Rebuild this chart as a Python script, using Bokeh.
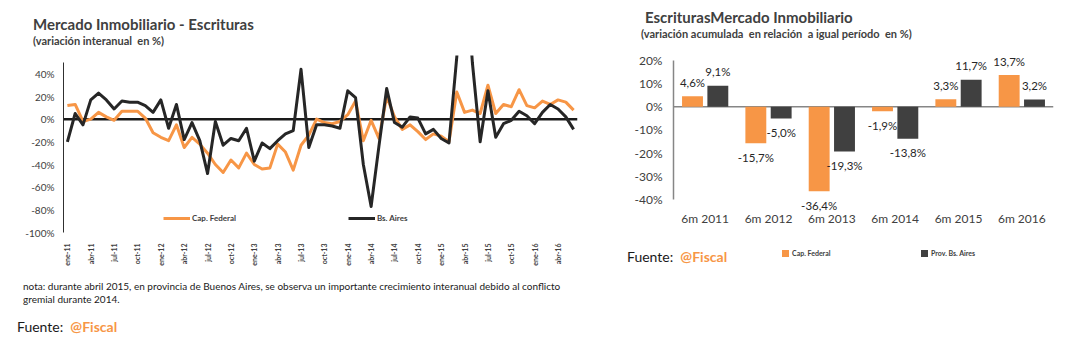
import numpy as np
from bokeh.plotting import figure
from bokeh.models import (ColumnDataSource, Span, Legend, LegendItem, Div,
                          FixedTicker, Range1d, FactorRange)
from bokeh.layouts import row
from bokeh.transform import dodge
from bokeh.embed import file_html
from bokeh.resources import INLINE
from bokeh.core.properties import value

FONT = "Lato"
ORANGE = "#F79646"
DARK = "#404040"
LINE_DARK = "#262626"
TXT = "#404040"

# ---------------- data: left chart (monthly, ene-11 .. jun-16, % interannual) -------------
cap_federal = [12, 13, -2, 0, 6, 2, -1, 7, 7, 7,
               1, -12, -16, -19, -5, -25, -16, -22, -30, -40,
               -47, -36, -43, -30, -40, -44, -43, -22, -29, -45,
               -23, -14, 0, -3, -4, -2, 4, 16, -19, -1,
               -17, 20, 2, -9, -5, -11, -18, -13, -15, -20,
               24, 6, 8, 5, 30, 5, 13, 11, 26, 12,
               10, 16, 13, 17, 15, 8]
bs_aires = [-20, 5, -5, 17, 23, 17, 9, 16, 15, 15,
            12, 6, 17, -8, 13, -18, -3, -19, -48, -2,
            -23, -17, -19, -8, -37, -21, -26, -19, -13, -10,
            44, -25, -5, -5, -6, -8, 25, 19, -40, -77,
            -24, 27, -3, -7, 2, 1, -13, -9, -17, -21,
            55, 150, 50, -20, 25, -16, -4, -1, 7, 3,
            -4, 6, 13, 9, 2, -9]
quarter_labels = ["ene-11", "abr-11", "jul-11", "oct-11", "ene-12", "abr-12", "jul-12",
                  "oct-12", "ene-13", "abr-13", "jul-13", "oct-13", "ene-14", "abr-14",
                  "jul-14", "oct-14", "ene-15", "abr-15", "jul-15", "oct-15", "ene-16",
                  "abr-16"]
left_yticks = [-100, -80, -60, -40, -20, 0, 20, 40]

# ---------------- data: right chart (6-month accumulated variation, %) --------------------
periods = ["6m 2011", "6m 2012", "6m 2013", "6m 2014", "6m 2015", "6m 2016"]
cap_fed_6m = [4.6, -15.7, -36.4, -1.9, 3.3, 13.7]
prov_ba_6m = [9.1, -5.0, -19.3, -13.8, 11.7, 3.2]
right_yticks = [-40, -30, -20, -10, 0, 10, 20]


def fmt(v):
    return f"{v:.1f}".replace(".", ",") + "%"


def html_text(html, left, center_y, size, color=TXT, weight="normal"):
    """free text placed on the page (px from the page's top-left)"""
    top = center_y - 0.6 * size
    return Div(text=html, margin=0, styles={
        "position": "absolute", "left": f"{left}px", "top": f"{top:.1f}px",
        "font-family": FONT, "font-size": f"{size}px", "line-height": "1.2",
        "color": color, "font-weight": weight, "white-space": "nowrap",
        "z-index": "5"})


TOP = 55
BOTTOM = 113
FRAME_H = 345 - TOP - BOTTOM   # 177 px, shared by both panels (row aligns frames)

# ================= LEFT FIGURE =================
L_LEFT, L_W = 63, 514
L_PX = 1.1333   # px per percentage point
p1 = figure(width=600, height=345, title=None,
            x_range=Range1d(-0.5, len(cap_federal) - 0.5),
            y_range=Range1d(-100, -100 + FRAME_H / L_PX),
            output_backend="svg", toolbar_location=None,
            min_border_left=L_LEFT, min_border_right=600 - L_LEFT - L_W,
            min_border_top=TOP, min_border_bottom=BOTTOM)
p1.outline_line_color = None
p1.grid.visible = False

p1.xaxis.ticker = FixedTicker(ticks=list(range(0, 3 * len(quarter_labels), 3)))
p1.xaxis.major_label_overrides = {3 * i: lab for i, lab in enumerate(quarter_labels)}
p1.xaxis.major_label_orientation = np.pi / 2
p1.xaxis.axis_line_color = None
p1.xaxis.major_tick_line_color = None
p1.xaxis.minor_tick_line_color = None
p1.xaxis.major_tick_out = 0
p1.xaxis.minor_tick_out = 0
p1.xaxis.major_label_standoff = 11
p1.xaxis.major_label_text_font = FONT
p1.xaxis.major_label_text_font_size = "7px"
p1.xaxis.major_label_text_font_style = "bold"
p1.xaxis.major_label_text_color = TXT

p1.yaxis.ticker = FixedTicker(ticks=left_yticks)
p1.yaxis.bounds = (-100, 50)
p1.yaxis.major_label_overrides = {v: f"{v}%" for v in left_yticks}
p1.yaxis.axis_line_color = "#303030"
p1.yaxis.axis_line_width = 1
p1.yaxis.major_tick_line_color = None
p1.yaxis.minor_tick_line_color = None
p1.yaxis.major_tick_out = 0
p1.yaxis.minor_tick_out = 0
p1.yaxis.major_label_standoff = 9
p1.yaxis.major_label_text_font = FONT
p1.yaxis.major_label_text_font_size = "10px"
p1.yaxis.major_label_text_color = TXT

p1.add_layout(Span(location=0, dimension="width", line_color="#1a1a1a",
                   line_width=2.5, level="underlay"))

months = np.arange(len(cap_federal))
src1 = ColumnDataSource(dict(m=months, cf=cap_federal, ba=bs_aires))
r_cf = p1.line("m", "cf", source=src1, line_color=ORANGE, line_width=3, line_join="round")
r_ba = p1.line("m", "ba", source=src1, line_color=LINE_DARK, line_width=3, line_join="round")

lg1 = Legend(items=[LegendItem(label="Cap. Federal", renderers=[r_cf]),
                    LegendItem(label="Bs. Aires", renderers=[r_ba])],
             orientation="horizontal", location=(163 - L_LEFT, 9),
             glyph_width=27, glyph_height=10, label_standoff=2, spacing=112,
             padding=0, margin=0, border_line_color=None, background_fill_alpha=0,
             label_text_font=FONT, label_text_font_size="8px",
             label_text_font_style="bold", label_text_color=TXT,
             label_height=10)
p1.add_layout(lg1)

# ================= RIGHT FIGURE =================
R_LEFT, R_W = 73, 380
R_PX = 2.3166
p2 = figure(width=492, height=345, title=None,
            x_range=FactorRange(*periods),
            y_range=Range1d(20 + 5 / R_PX - FRAME_H / R_PX, 20 + 5 / R_PX),
            output_backend="svg", toolbar_location=None,
            min_border_left=R_LEFT, min_border_right=492 - R_LEFT - R_W,
            min_border_top=TOP, min_border_bottom=BOTTOM)
p2.outline_line_color = None
p2.grid.visible = False

p2.xaxis.fixed_location = -42.7
p2.xaxis.axis_line_color = None
p2.xaxis.major_tick_line_color = None
p2.xaxis.minor_tick_line_color = None
p2.xaxis.major_tick_out = 0
p2.xaxis.minor_tick_out = 0
p2.xaxis.major_label_standoff = 5
p2.xaxis.major_label_text_font = FONT
p2.xaxis.major_label_text_font_size = "12px"
p2.xaxis.major_label_text_color = TXT

p2.yaxis.ticker = FixedTicker(ticks=right_yticks)
p2.yaxis.bounds = (-40, 20)
p2.yaxis.major_label_overrides = {v: f"{v}%" for v in right_yticks}
p2.yaxis.axis_line_color = "#868686"
p2.yaxis.axis_line_width = 1.5
p2.yaxis.major_tick_line_color = None
p2.yaxis.minor_tick_line_color = None
p2.yaxis.major_tick_out = 0
p2.yaxis.minor_tick_out = 0
p2.yaxis.major_label_standoff = 11
p2.yaxis.major_label_text_font = FONT
p2.yaxis.major_label_text_font_size = "12px"
p2.yaxis.major_label_text_color = TXT

p2.add_layout(Span(location=0, dimension="width", line_color="#868686",
                   line_width=1.5, level="underlay"))

src2 = ColumnDataSource(dict(
    period=periods, cf=cap_fed_6m, ba=prov_ba_6m,
    cf_lab=[fmt(v) for v in cap_fed_6m], ba_lab=[fmt(v) for v in prov_ba_6m],
    cf_off=[-14 if v >= 0 else 14 for v in cap_fed_6m],
    ba_off=[-14 if v >= 0 else 14 for v in prov_ba_6m]))

p2.vbar(x=dodge("period", -0.2, range=p2.x_range), top="cf", width=0.33,
        source=src2, fill_color=ORANGE, line_color=None)
p2.vbar(x=dodge("period", 0.2, range=p2.x_range), top="ba", width=0.33,
        source=src2, fill_color=DARK, line_color=None)
p2.text(x=dodge("period", -0.2, range=p2.x_range), y="cf", text="cf_lab", y_offset="cf_off",
        source=src2, text_align="center", text_baseline="middle", text_font=value(FONT),
        text_font_size="11.5px", text_color="#262626")
p2.text(x=dodge("period", 0.2, range=p2.x_range), y="ba", text="ba_lab", y_offset="ba_off",
        source=src2, text_align="center", text_baseline="middle", text_font=value(FONT),
        text_font_size="11.5px", text_color="#262626")

# ================= free texts (page coordinates) =================
fiscal = f'<span style="color:{ORANGE};font-weight:bold">@Fiscal</span>'
sq = ('<span style="display:inline-block;width:7px;height:7px;background:{c};'
      'margin-right:3px;vertical-align:-1px"></span>')
texts = [
    html_text("Mercado Inmobiliario - Escrituras", 33, 23.5, 15, weight="bold"),
    html_text("(variación interanual&nbsp; en %)", 33, 40.5, 11, weight="bold"),
    html_text("nota: durante abril 2015, en provincia de Buenos Aires, se observa un importante "
              "crecimiento interanual debido al conflicto", 23, 286, 10, color="#1a1a1a"),
    html_text("gremial durante 2014.", 23, 299, 10, color="#1a1a1a"),
    html_text("Fuente:&nbsp; " + fiscal, 17, 327, 14, color="#1a1a1a"),
    html_text("EscriturasMercado Inmobiliario", 645, 16.7, 15, weight="bold"),
    html_text("(variación acumulada&nbsp; en relación&nbsp; a igual período&nbsp; en %)",
              641, 34, 11, weight="bold"),
    html_text("Fuente:&nbsp; " + fiscal, 627, 257, 14, color="#1a1a1a"),
    html_text(sq.format(c=ORANGE) + "Cap. Federal", 782, 253, 7, weight="bold"),
    html_text(sq.format(c=DARK) + "Prov. Bs. Aires", 921, 253, 7, weight="bold"),
]

layout = row(p1, p2, *texts)
open("out.html", "w").write(file_html(layout, INLINE))
